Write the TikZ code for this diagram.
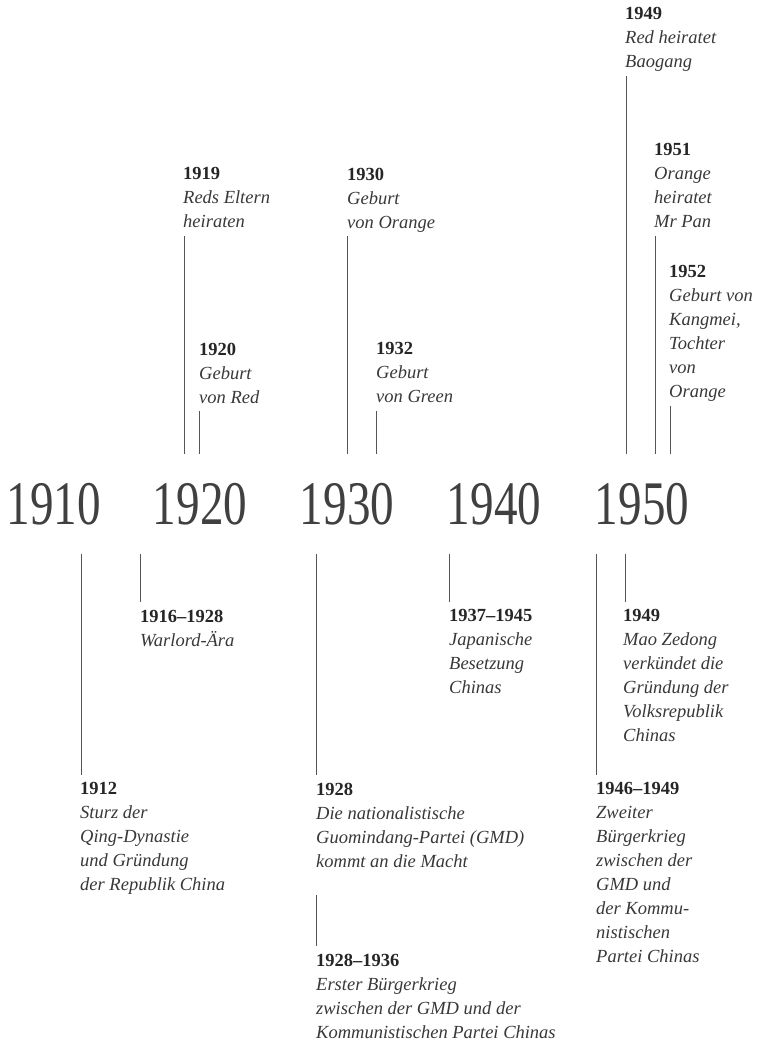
\documentclass[tikz,border=0pt]{standalone}
\usepackage{fontspec}
\setmainfont{Liberation Serif}
\newfontfamily\decadefont[FakeStretch=0.76]{Liberation Serif}
\definecolor{ink}{HTML}{262626}
\definecolor{prose}{HTML}{383838}
\definecolor{decadegray}{HTML}{404040}
\definecolor{tickgray}{HTML}{555555}
\newcommand{\yr}[1]{{\upshape\bfseries\color{ink}#1}\\}

\begin{document}
\begin{tikzpicture}[x=1pt,y=-1pt]
\tikzstyle{every node}+=[inner sep=0pt]
\tikzstyle{event}=[anchor=north west, align=left, text depth=5pt, text=prose, font=\fontsize{18.5}{24}\selectfont\itshape]
\tikzstyle{decade}=[anchor=base, text=decadegray, font=\decadefont\fontsize{62}{62}\selectfont]
\tikzstyle{tickup}=[tickgray, line width=0.9pt, shorten <=3pt]
\tikzstyle{tickdown}=[tickgray, line width=0.9pt, shorten <=7.5pt]
\useasboundingbox (0,0) rectangle (764,1042);
\node [decade] (d1910) at (54,524) {1910};
\node [decade] (d1920) at (200,524) {1920};
\node [decade] (d1930) at (347,524) {1930};
\node [decade] (d1940) at (494,524) {1940};
\node [decade] (d1950) at (642,524) {1950};
\coordinate (t1919) at (184.5,454);
\coordinate (t1920) at (199.5,454);
\coordinate (t1930) at (347,454);
\coordinate (t1932) at (376.5,454);
\coordinate (t1949) at (626,454);
\coordinate (t1951) at (655.5,454);
\coordinate (t1952) at (670,454);
\coordinate (b1912) at (81.7,554);
\coordinate (b1916) at (140.5,554);
\coordinate (b1928) at (316.7,554);
\coordinate (b1937) at (449.3,554);
\coordinate (b1946) at (596.7,554);
\coordinate (b1949) at (625.5,554);
\coordinate (c1928) at (316.7,895);
\node [event] (e1949a) at (625,7.5) {\yr{1949}Red heiratet\\Baogang};
\node [event] (e1951) at (654,143) {\yr{1951}Orange\\heiratet\\Mr Pan};
\node [event] (e1952) at (669,265.5) {\yr{1952}Geburt von\\Kangmei,\\Tochter\\von\\Orange};
\node [event] (e1919) at (183,167.5) {\yr{1919}Reds Eltern\\heiraten};
\node [event] (e1930) at (347,167.5) {\yr{1930}Geburt\\von Orange};
\node [event] (e1920) at (199,342.5) {\yr{1920}Geburt\\von Red};
\node [event] (e1932) at (376,342.5) {\yr{1932}Geburt\\von Green};
\node [event] (e1916) at (140,609.5) {\yr{1916--1928}Warlord-Ära};
\node [event] (e1937) at (449,609.5) {\yr{1937--1945}Japanische\\Besetzung\\Chinas};
\node [event] (e1949b) at (623,609.5) {\yr{1949}Mao Zedong\\verkündet die\\Gründung der\\Volksrepublik\\Chinas};
\node [event] (e1912) at (80,782.5) {\yr{1912}Sturz der\\Qing-Dynastie\\und Gründung\\der Republik China};
\node [event] (e1928) at (316,782.5) {\yr{1928}Die nationalistische\\Guomindang-Partei (GMD)\\kommt an die Macht};
\node [event] (e1946) at (596,782.5) {\yr{1946--1949}Zweiter\\Bürgerkrieg\\zwischen der\\GMD und\\der Kommu-\\nistischen\\Partei Chinas};
\node [event] (e1928b) at (316,953.5) {\yr{1928--1936}Erster Bürgerkrieg\\zwischen der GMD und der\\Kommunistischen Partei Chinas};
\draw [tickup] (t1949 |- e1949a.south) -- (t1949);
\draw [tickup] (t1951 |- e1951.south) -- (t1951);
\draw [tickup] (t1952 |- e1952.south) -- (t1952);
\draw [tickup] (t1919 |- e1919.south) -- (t1919);
\draw [tickup] (t1930 |- e1930.south) -- (t1930);
\draw [tickup] (t1920 |- e1920.south) -- (t1920);
\draw [tickup] (t1932 |- e1932.south) -- (t1932);
\draw [tickdown] (b1916 |- e1916.north) -- (b1916);
\draw [tickdown] (b1937 |- e1937.north) -- (b1937);
\draw [tickdown] (b1949 |- e1949b.north) -- (b1949);
\draw [tickdown] (b1912 |- e1912.north) -- (b1912);
\draw [tickdown] (b1928 |- e1928.north) -- (b1928);
\draw [tickdown] (b1946 |- e1946.north) -- (b1946);
\draw [tickdown] (c1928 |- e1928b.north) -- (c1928);
\end{tikzpicture}
\end{document}
